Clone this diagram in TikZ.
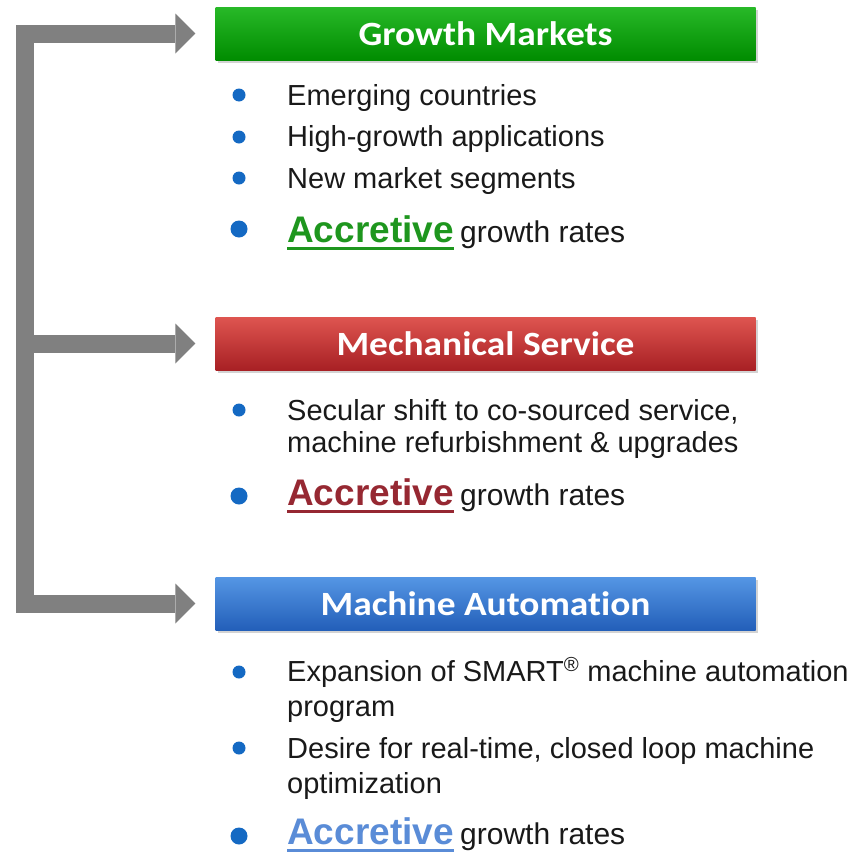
\documentclass[tikz,border=0pt]{standalone}
\usepackage{fontspec}
\setmainfont{Liberation Sans}
\newfontfamily\headfont{Carlito}[Ligatures=NoCommon,FakeStretch=1.1]
\usetikzlibrary{arrows.meta,shadows}

\definecolor{trunkgray}{RGB}{128,128,128}
\definecolor{bullet}{RGB}{20,105,195}
\definecolor{gtop}{RGB}{40,185,40}
\definecolor{gbot}{RGB}{0,140,0}
\definecolor{rtop}{RGB}{222,85,80}
\definecolor{rbot}{RGB}{168,32,36}
\definecolor{btop}{RGB}{85,150,228}
\definecolor{bbot}{RGB}{35,95,185}
\definecolor{accgreen}{RGB}{30,150,30}
\definecolor{accred}{RGB}{150,40,50}
\definecolor{accblue}{RGB}{90,140,215}
\definecolor{bodytext}{RGB}{25,25,25}

\tikzset{bigtri/.tip={Triangle[length=20pt,width=40pt,line width=0pt]}}

\begin{document}
\begin{tikzpicture}[x=1pt,y=-1pt,
  bar/.style={minimum width=540pt, minimum height=53pt, inner sep=0pt,
    text=white, font=\headfont\bfseries\fontsize{34}{38}\selectfont,
    drop shadow={shadow xshift=2pt,shadow yshift=-3pt,opacity=0.35}},
  item/.style={anchor=base west, inner sep=0pt, text=bodytext,
    font=\fontsize{29}{34}\selectfont},
  tail/.style={anchor=base west, inner sep=0pt, text=bodytext,
    font=\fontsize{30}{34}\selectfont},
  accword/.style={anchor=base west, inner sep=0pt,
    font=\bfseries\fontsize{37}{40}\selectfont},
  dotS/.style={circle, fill=bullet, minimum size=13pt, inner sep=0pt},
  dotL/.style={circle, fill=bullet, minimum size=17pt, inner sep=0pt},
  trunk/.style={draw=trunkgray, line width=18pt, line join=miter}
]
\useasboundingbox (0,0) rectangle (866,854);

% ---- section headers ----
\node[bar, top color=gtop, bottom color=gbot] (gm) at (485.5,33.5) {Growth Markets};
\node[bar, top color=rtop, bottom color=rbot] (ms) at (485.5,343.5) {Mechanical Service};
\node[bar, top color=btop, bottom color=bbot] (ma) at (485.5,603.5) {Machine Automation};

% ---- gray trunk with three arrows ----
\coordinate (tTop) at (25,33.5);
\coordinate (tBot) at (tTop |- ma.west);
\coordinate (tMid) at (tTop |- ms.west);
\draw[trunk, bigtri-bigtri, shorten <=20pt, shorten >=20pt]
  (ma.west) -- (tBot) -- (tTop) -- (gm.west);
\draw[trunk, -bigtri, shorten >=20pt] (tMid) -- (ms.west);

% ---- Growth Markets items ----
\node[dotS] (g1d) at (239,95) {};
\node[item] (g1) at (287,105) {Emerging countries};
\node[dotS] (g2d) at (239,137) {};
\node[item] (g2) at (287,146) {High-growth applications};
\node[dotS] (g3d) at (239,178) {};
\node[item] (g3) at (287,188) {New market segments};
\node[dotL] (g4d) at (239,229) {};
\node[accword, text=accgreen] (g4a) at (287,242) {Accretive};
\node[tail] (g4) at ([xshift=6pt]g4a.base east) {growth rates};
\draw[accgreen, line width=3pt] ([yshift=-6pt]g4a.base west) -- ([yshift=-6pt]g4a.base east);

% ---- Mechanical Service items ----
\node[dotS] (m1d) at (239,410) {};
\node[item] (m1) at (287,420) {Secular shift to co-sourced service,};
\node[item] (m1b) at (287,452) {machine refurbishment \& upgrades};
\node[dotL] (m2d) at (239,496) {};
\node[accword, text=accred] (m2a) at (287,505) {Accretive};
\node[tail] (m2) at ([xshift=6pt]m2a.base east) {growth rates};
\draw[accred, line width=3pt] ([yshift=-6pt]m2a.base west) -- ([yshift=-6pt]m2a.base east);

% ---- Machine Automation items ----
\node[dotS] (a1d) at (239,672) {};
\node[item] (a1) at (287,681) {Expansion of SMART\textsuperscript{®} machine automation};
\node[item] (a1b) at (287,716) {program};
\node[dotS] (a2d) at (239,748) {};
\node[item] (a2) at (287,758) {Desire for real-time, closed loop machine};
\node[item] (a2b) at (287,793) {optimization};
\node[dotL] (a3d) at (239,836) {};
\node[accword, text=accblue] (a3a) at (287,844) {Accretive};
\node[tail] (a3) at ([xshift=6pt]a3a.base east) {growth rates};
\draw[accblue, line width=3pt] ([yshift=-6pt]a3a.base west) -- ([yshift=-6pt]a3a.base east);
\end{tikzpicture}
\end{document}
